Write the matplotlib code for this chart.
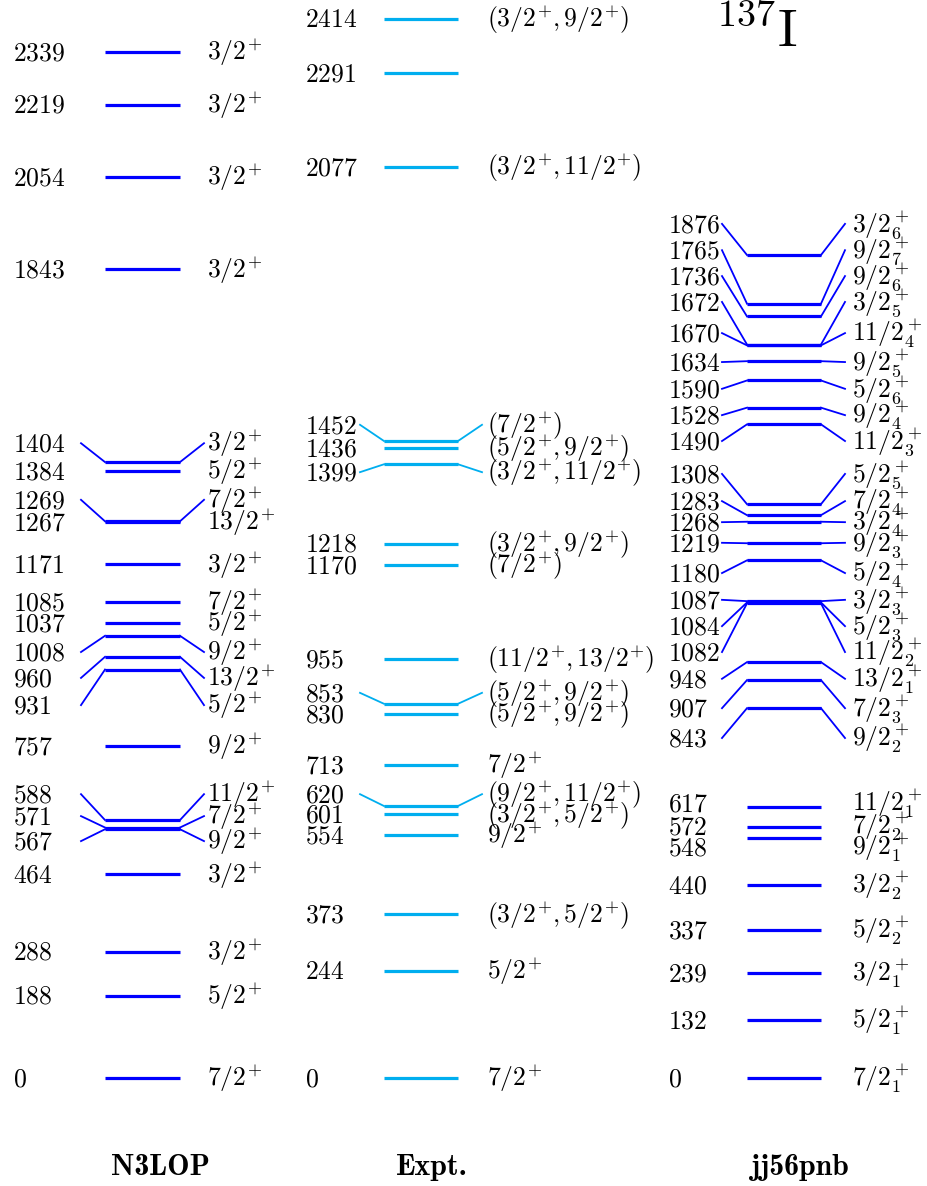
import os
import matplotlib
matplotlib.use('Agg')
import matplotlib.pyplot as plt
from matplotlib.font_manager import FontProperties

plt.rcParams['mathtext.fontset'] = 'cm'

# ---------------- data ----------------
column_names = ['N3LOP', 'Expt.', 'jj56pnb']

n3lop_energies = [0, 188, 288, 464, 567, 571, 588, 757, 931, 960, 1008, 1037,
                  1085, 1171, 1267, 1269, 1384, 1404, 1843, 2054, 2219, 2339]
n3lop_spins = ['7/2^+', '5/2^+', '3/2^+', '3/2^+', '9/2^+', '7/2^+', '11/2^+',
               '9/2^+', '5/2^+', '13/2^+', '9/2^+', '5/2^+', '7/2^+', '3/2^+',
               '13/2^+', '7/2^+', '5/2^+', '3/2^+', '3/2^+', '3/2^+', '3/2^+',
               '3/2^+']

expt_energies = [0, 244, 373, 554, 601, 620, 713, 830, 853, 955, 1170, 1218,
                 1399, 1436, 1452, 2077, 2291, 2414]
expt_spins = ['7/2^+', '5/2^+', '(3/2^+,5/2^+)', '9/2^+', '(3/2^+,5/2^+)',
              '(9/2^+,11/2^+)', '7/2^+', '(5/2^+,9/2^+)', '(5/2^+,9/2^+)',
              '(11/2^+,13/2^+)', '(7/2^+)', '(3/2^+,9/2^+)', '(3/2^+,11/2^+)',
              '(5/2^+,9/2^+)', '(7/2^+)', '(3/2^+,11/2^+)', '', '(3/2^+,9/2^+)']

jj_energies = [0, 132, 239, 337, 440, 548, 572, 617, 843, 907, 948, 1082, 1084,
               1087, 1180, 1219, 1268, 1283, 1308, 1490, 1528, 1590, 1634, 1670,
               1672, 1736, 1765, 1876]
jj_spins = ['7/2_1^+', '5/2_1^+', '3/2_1^+', '5/2_2^+', '3/2_2^+', '9/2_1^+',
            '7/2_2^+', '11/2_1^+', '9/2_2^+', '7/2_3^+', '13/2_1^+', '11/2_2^+',
            '5/2_3^+', '3/2_3^+', '5/2_4^+', '9/2_3^+', '3/2_4^+', '7/2_4^+',
            '5/2_5^+', '11/2_3^+', '9/2_4^+', '5/2_6^+', '9/2_5^+', '11/2_4^+',
            '3/2_5^+', '9/2_6^+', '9/2_7^+', '3/2_6^+']

# ---------------- layout (label placement, keV) ----------------
n3lop_leader_pos = {567: 540, 571: 597, 588: 647, 931: 850, 960: 912,
                    1008: 971, 1269: 1318, 1404: 1447}
n3lop_shift_pos = {}
expt_leader_pos = {620: 647, 853: 878, 1399: 1381, 1452: 1489}
expt_shift_pos = {}
jj_leader_pos = {843: 775, 907: 843, 948: 910, 1082: 971, 1084: 1030,
                 1087: 1090, 1180: 1151, 1219: 1220, 1268: 1267, 1283: 1315,
                 1308: 1377, 1490: 1452, 1528: 1511, 1590: 1571, 1634: 1632,
                 1670: 1698, 1672: 1769, 1736: 1828, 1765: 1887, 1876: 1947}
jj_shift_pos = {548: 527, 572: 574, 617: 627}

BLUE = '#0000FF'
LIGHT = '#00AEEF'

columns = [
    dict(E=n3lop_energies, S=n3lop_spins, lead=n3lop_leader_pos, shift=n3lop_shift_pos,
         color=BLUE, x_en=13, x_l0=81, x_b0=105, x_b1=180, x_l1=204, x_sp=207, x_name=161),
    dict(E=expt_energies, S=expt_spins, lead=expt_leader_pos, shift=expt_shift_pos,
         color=LIGHT, x_en=305, x_l0=360, x_b0=384, x_b1=458, x_l1=482, x_sp=487, x_name=432),
    dict(E=jj_energies, S=jj_spins, lead=jj_leader_pos, shift=jj_shift_pos,
         color=BLUE, x_en=668, x_l0=722, x_b0=747, x_b1=821, x_l1=845, x_sp=852, x_name=800),
]


def spin_tex(s):
    # tighten a bare superscript "+" against its neighbours
    out = []
    i = 0
    while i < len(s):
        if s[i] == '^' and not (i >= 2 and s[i - 2] == '_'):
            out.append(r'^{\!+}')
            i += 2
            if i < len(s) and s[i] in '),':
                out.append(r'\!')
        else:
            out.append(s[i])
            i += 1
    return '$' + ''.join(out) + '$'


W, H = 927, 1186
fig = plt.figure(figsize=(W / 100, H / 100), dpi=100)
ax = fig.add_axes([0, 0, 1, 1])
ax.set_xlim(0, W)
scale = 0.43869  # px per keV
y0 = 1078        # pixel row of E = 0
ax.set_ylim((y0 - H) / scale, y0 / scale)
ax.axis('off')

FS = 18.5
off = -0.322 * FS

for col in columns:
    for E, S in zip(col['E'], col['S']):
        ax.plot([col['x_b0'], col['x_b1']], [E, E], color=col['color'], lw=2.3,
                solid_capstyle='butt')
        if E in col['lead']:
            yl = col['lead'][E]
            ax.plot([col['x_l0'], col['x_b0']], [yl, E], color=col['color'], lw=1.3)
            ax.plot([col['x_b1'], col['x_l1']], [E, yl], color=col['color'], lw=1.3)
        elif E in col['shift']:
            yl = col['shift'][E]
        else:
            yl = E
        ax.annotate(r'$%d$' % E, xy=(col['x_en'], yl), xytext=(0, off),
                    textcoords='offset points', ha='left', va='baseline', fontsize=FS)
        if S:
            ax.annotate(spin_tex(S), xy=(col['x_sp'], yl), xytext=(0, off),
                        textcoords='offset points', ha='left', va='baseline', fontsize=FS)

bold_path = os.path.join(matplotlib.get_data_path(), 'fonts', 'ttf', 'cmb10.ttf')
if os.path.exists(bold_path):
    name_font = FontProperties(fname=bold_path, size=21.5)
else:
    name_font = FontProperties(family='serif', weight='bold', size=21.5)

for col, name in zip(columns, column_names):
    fig.text(col['x_name'] / W, 1 - 1175 / H, name, fontproperties=name_font,
             ha='center', va='baseline')

fig.text(715 / W, 1 - 47 / H, r'${}^{137}\mathrm{I}$', ha='left', va='baseline',
         fontsize=39)

fig.savefig('out.png', dpi=100)
